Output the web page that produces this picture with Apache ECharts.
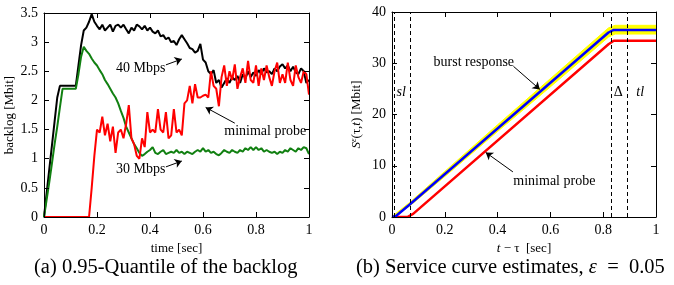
<!DOCTYPE html>
<html>
<head>
<meta charset="utf-8">
<script src="https://cdn.jsdelivr.net/npm/echarts@6/dist/echarts.min.js"></script>
<style>
html, body { margin: 0; padding: 0; background: #fff; }
#chart { width: 674px; height: 285px; }
</style>
</head>
<body>
<div id="chart"></div>
<script>
// (a) backlog, time axis in seconds
var time = [0, 0.01, 0.02, 0.03, 0.04, 0.05, 0.06, 0.07, 0.08, 0.09,
    0.1, 0.11, 0.12, 0.13, 0.14, 0.15, 0.16, 0.17, 0.18, 0.19,
    0.2, 0.21, 0.22, 0.23, 0.24, 0.25, 0.26, 0.27, 0.28, 0.29,
    0.3, 0.31, 0.32, 0.33, 0.34, 0.35, 0.36, 0.37, 0.38, 0.39,
    0.4, 0.41, 0.42, 0.43, 0.44, 0.45, 0.46, 0.47, 0.48, 0.49,
    0.5, 0.51, 0.52, 0.53, 0.54, 0.55, 0.56, 0.57, 0.58, 0.59,
    0.6, 0.61, 0.62, 0.63, 0.64, 0.65, 0.66, 0.67, 0.68, 0.69,
    0.7, 0.71, 0.72, 0.73, 0.74, 0.75, 0.76, 0.77, 0.78, 0.79,
    0.8, 0.81, 0.82, 0.83, 0.84, 0.85, 0.86, 0.87, 0.88, 0.89,
    0.9, 0.91, 0.92, 0.93, 0.94, 0.95, 0.96, 0.97, 0.98, 0.99, 1]

var backlog40 = [0, 0.41, 0.82, 1.23, 1.64, 2.05, 2.25, 2.25, 2.25, 2.25,
    2.25, 2.25, 2.25, 2.6, 2.95, 3.2, 3.25, 3.35, 3.48, 3.35,
    3.28, 3.22, 3.3, 3.2, 3.25, 3.3, 3.18, 3.28, 3.3, 3.25,
    3.3, 3.22, 3.15, 3.25, 3.2, 3.3, 3.27, 3.22, 3.28, 3.2,
    3.25, 3.18, 3.15, 3.2, 3.1, 3.12, 3.05, 3.08, 3.0, 3.02,
    2.95, 3.05, 3.12, 3.05, 2.98, 2.9, 2.88, 2.82, 2.85, 2.97,
    2.7, 2.65, 2.5, 2.45, 2.52, 2.3, 2.35, 2.22, 2.3, 2.38,
    2.3, 2.4, 2.35, 2.42, 2.3, 2.45, 2.38, 2.5, 2.4, 2.48,
    2.42, 2.52, 2.45, 2.55, 2.48, 2.5, 2.45, 2.55, 2.5, 2.58,
    2.62, 2.55, 2.6, 2.5, 2.58, 2.48, 2.45, 2.55, 2.5, 2.3, 2.35]

var backlog30 = [0, 0.3, 0.6, 0.92, 1.25, 1.55, 1.88, 2.2, 2.2, 2.2,
    2.2, 2.2, 2.2, 2.45, 2.75, 2.92, 2.85, 2.8, 2.72, 2.65,
    2.6, 2.52, 2.45, 2.35, 2.28, 2.2, 2.12, 2.05, 1.95, 1.82,
    1.7, 1.55, 1.45, 1.35, 1.25, 1.18, 1.1, 1.05, 1.08, 1.12,
    1.15, 1.2, 1.1, 1.08, 1.12, 1.15, 1.08, 1.1, 1.12, 1.1,
    1.15, 1.1, 1.12, 1.08, 1.12, 1.1, 1.08, 1.12, 1.15, 1.12,
    1.18, 1.12, 1.15, 1.1, 1.12, 1.08, 1.06, 1.1, 1.15, 1.12,
    1.1, 1.15, 1.12, 1.1, 1.15, 1.12, 1.18, 1.15, 1.2, 1.15,
    1.2, 1.15, 1.18, 1.12, 1.15, 1.12, 1.1, 1.12, 1.08, 1.12,
    1.1, 1.15, 1.12, 1.18, 1.15, 1.12, 1.18, 1.15, 1.2, 1.18, 1.08]

var backlogProbe = [0, 0, 0, 0, 0, 0, 0, 0, 0, 0,
    0, 0, 0, 0, 0, 0, 0, 0, 0.5, 1.05,
    1.5, 1.45, 1.72, 1.4, 1.6, 1.3, 1.55, 1.1, 1.45, 1.5,
    1.35, 1.6, 1.92, 1.35, 1.25, 1.05, 1.0, 1.35, 1.2, 1.8,
    1.45, 1.5, 1.45, 1.85, 1.5, 1.45, 1.8, 1.35, 1.4, 1.85,
    1.45, 1.5, 1.4, 1.95, 2.0, 2.25, 1.95, 2.28, 2.05, 2.05,
    2.08, 2.1, 2.05, 2.5, 2.25, 2.2, 1.9, 2.4, 2.6, 2.25,
    2.5, 2.35, 2.62, 2.2, 2.4, 2.55, 2.3, 2.68, 2.35, 2.3,
    2.6, 2.25, 2.55, 2.35, 2.6, 2.4, 2.25, 2.5, 2.65, 2.3,
    2.45, 2.3, 2.65, 2.35, 2.25, 2.6, 2.4, 2.3, 2.5, 2.45, 2.1]

// (b) service curve estimates
var burstX = [0, 0.015, 0.066, 0.82, 0.84, 1]
var burstY = [0, 0.2, 2.4, 36.0, 36.5, 36.5]
var bandX = [0, 0.066, 0.2, 0.4, 0.6, 0.82, 0.845, 1]
var bandHigh = [0.1, 2.8, 8.9, 18.0, 27.0, 36.9, 37.4, 37.4]
var bandLow = [0, 2.1, 7.9, 16.7, 25.4, 35.1, 35.7, 35.7]
var probeX = [0, 0.058, 0.08, 0.82, 0.84, 1]
var probeY = [0, 0, 0.6, 33.7, 34.4, 34.4]
var markerLines = [0.006, 0.066, 0.828, 0.889]

function zip(xs, ys) {
    var out = []
    for (var i = 0; i < xs.length; i++) out.push([xs[i], ys[i]])
    return out
}

var serif = 'Liberation Serif'
var tickFont = { fontFamily: serif, fontSize: 14, color: '#000' }

function mkX(grid, pos, labels, name, nameRich) {
    return {
        type: 'value', gridIndex: grid, position: pos, min: 0, max: 1, interval: 0.2, z: 10,
        axisLine: { show: true, onZero: false, lineStyle: { color: '#000', width: 1 } },
        axisTick: { show: true, inside: true, length: 5, lineStyle: { color: '#000' } },
        axisLabel: Object.assign({ show: labels, margin: 6 }, tickFont),
        splitLine: { show: false },
        name: name || '', nameLocation: 'middle', nameGap: 25,
        nameTextStyle: { fontFamily: serif, fontSize: 13, color: '#000', rich: nameRich }
    }
}

function mkY(grid, pos, labels, max, step, name, nameRich) {
    return {
        type: 'value', gridIndex: grid, position: pos, min: 0, max: max, interval: step, z: 10,
        axisLine: { show: true, onZero: false, lineStyle: { color: '#000', width: 1 } },
        axisTick: { show: true, inside: true, length: 5, lineStyle: { color: '#000' } },
        axisLabel: Object.assign({ show: labels, margin: 6 }, tickFont),
        splitLine: { show: false },
        name: name || '', nameLocation: 'middle', nameGap: labels ? 28 : 0, nameRotate: 90,
        nameTextStyle: { fontFamily: serif, fontSize: 13, color: '#000', rich: nameRich }
    }
}

function arrow(from, to) {
    return [{ coord: from }, { coord: to }]
}

function note(text, at, italic) {
    return {
        coord: at, symbol: 'circle', symbolSize: 0,
        label: {
            show: true, position: 'inside', formatter: text,
            fontFamily: serif, fontSize: 14, color: '#000',
            fontStyle: italic ? 'italic' : 'normal'
        }
    }
}

var arrowStyle = {
    silent: true, symbol: ['none', 'arrow'], symbolSize: 7,
    lineStyle: { color: '#000', width: 1, type: 'solid' }, label: { show: false }
}

var rich = {
    i: { fontFamily: serif, fontSize: 13, fontStyle: 'italic', color: '#000' },
    sup: { fontFamily: serif, fontSize: 9, fontStyle: 'italic', color: '#000', verticalAlign: 'top', padding: [0, 0, 6, 0] },
    n: { fontFamily: serif, fontSize: 13, color: '#000' }
}

var chart = echarts.init(document.getElementById('chart'))
chart.setOption({
    animation: false,
    backgroundColor: '#fff',
    grid: [
        { left: 44, top: 13, width: 265, height: 204 },
        { left: 392, top: 12, width: 264, height: 205 }
    ],
    xAxis: [
        mkX(0, 'bottom', true, 'time [sec]'),
        mkX(0, 'top', false),
        mkX(1, 'bottom', true, '{i|t}{n| − τ  [sec]}', rich),
        mkX(1, 'top', false)
    ],
    yAxis: [
        mkY(0, 'left', true, 3.5, 0.5, 'backlog [Mbit]'),
        mkY(0, 'right', false, 3.5, 0.5),
        mkY(1, 'left', true, 40, 10, '{i|S}{sup|ε}{n|(τ,}{i|t}{n|) [Mbit]}', rich),
        mkY(1, 'right', false, 40, 10)
    ],
    series: [
        {
            name: '40 Mbps', type: 'line', xAxisIndex: 0, yAxisIndex: 0,
            data: zip(time, backlog40), showSymbol: false,
            lineStyle: { color: '#000', width: 2 },
            markLine: Object.assign({ data: [arrow([0.46, 2.61], [0.52, 2.71])] }, arrowStyle),
            markPoint: { data: [note('40 Mbps', [0.365, 2.55])] }
        },
        {
            name: '30 Mbps', type: 'line', xAxisIndex: 0, yAxisIndex: 0,
            data: zip(time, backlog30), showSymbol: false,
            lineStyle: { color: '#118011', width: 2 },
            markLine: Object.assign({ data: [arrow([0.46, 0.86], [0.52, 0.96])] }, arrowStyle),
            markPoint: { data: [note('30 Mbps', [0.365, 0.81])] }
        },
        {
            name: 'minimal probe', type: 'line', xAxisIndex: 0, yAxisIndex: 0,
            data: zip(time, backlogProbe), showSymbol: false,
            lineStyle: { color: '#ff0000', width: 2 },
            markLine: Object.assign({ data: [arrow([0.72, 1.61], [0.61, 1.88])] }, arrowStyle),
            markPoint: { data: [note('minimal probe', [0.835, 1.47])] }
        },
        {
            name: 'band high', type: 'line', xAxisIndex: 2, yAxisIndex: 2,
            data: zip(bandX, bandHigh), showSymbol: false,
            lineStyle: { color: '#ffff00', width: 1 },
            areaStyle: { color: '#ffff00', opacity: 1 }
        },
        {
            name: 'band low', type: 'line', xAxisIndex: 2, yAxisIndex: 2,
            data: zip(bandX, bandLow), showSymbol: false,
            lineStyle: { color: '#ffff00', width: 1 },
            areaStyle: { color: '#ffffff', opacity: 1 }
        },
        {
            name: 'minimal probe est', type: 'line', xAxisIndex: 2, yAxisIndex: 2,
            data: zip(probeX, probeY), showSymbol: false,
            lineStyle: { color: '#ff0000', width: 2.5 },
            markLine: Object.assign({ data: [arrow([0.458, 8.8], [0.355, 12.6])] }, arrowStyle),
            markPoint: { data: [note('minimal probe', [0.615, 6.9])] }
        },
        {
            name: 'burst response', type: 'line', xAxisIndex: 2, yAxisIndex: 2,
            data: zip(burstX, burstY), showSymbol: false,
            lineStyle: { color: '#0000ff', width: 2.5 },
            markLine: Object.assign({ data: [arrow([0.46, 29.4], [0.56, 24.9])] }, arrowStyle),
            markPoint: {
                data: [
                    note('burst response', [0.31, 30.2]),
                    note('sl', [0.035, 24.3], true),
                    note('Δ', [0.857, 24.3]),
                    note('tl', [0.94, 24.3], true)
                ]
            }
        },
        {
            name: 'marks', type: 'line', xAxisIndex: 2, yAxisIndex: 2, data: [],
            markLine: {
                silent: true, symbol: 'none',
                lineStyle: { color: '#000', width: 1, type: [4, 3] },
                label: { show: false },
                data: markerLines.map(function (v) { return { xAxis: v } })
            }
        }
    ],
    graphic: [
        {
            type: 'text', left: 34, top: 257,
            style: { text: '(a) 0.95-Quantile of the backlog', font: '20.5px "Liberation Serif"', fill: '#000' }
        },
        {
            type: 'text', left: 356, top: 257,
            style: {
                text: '{n|(b) Service curve estimates, }{i|ε}{n|  =  0.05}',
                rich: {
                    n: { font: '20.5px "Liberation Serif"', fill: '#000' },
                    i: { font: 'italic 20.5px "Liberation Serif"', fill: '#000' }
                }
            }
        }
    ]
})
</script>
</body>
</html>
